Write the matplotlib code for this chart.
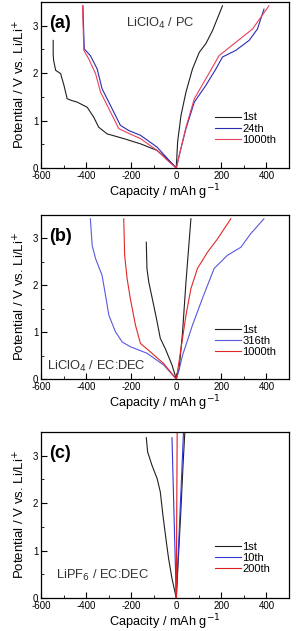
import matplotlib

matplotlib.use("Agg")
import matplotlib.pyplot as plt
from matplotlib.ticker import MultipleLocator

plt.rcParams["font.family"] = ["Liberation Sans", "DejaVu Sans"]
plt.rcParams["axes.unicode_minus"] = False

# ---- panel (a): LiClO4 / PC ----
A_1ST_CAP = [-546, -546, -544, -535, -513, -498, -484, -462, -440, -395, -366, -344, -307, -233, -159, -85, -27, 0,
             6, 21, 43, 72, 102, 131, 161, 205]
A_1ST_V = [2.69, 2.4, 2.27, 2.06, 1.99, 1.74, 1.46, 1.42, 1.39, 1.28, 1.07, 0.86, 0.72, 0.62, 0.51, 0.37, 0.13, 0.0,
           0.55, 1.11, 1.60, 2.09, 2.44, 2.62, 2.90, 3.42]
A_24_CAP = [-414, -410, -408, -381, -351, -329, -292, -248, -211, -159, -85, -30, 0,
            20, 43, 80, 131, 176, 205, 264, 323, 360, 389]
A_24_V = [3.42, 2.79, 2.51, 2.37, 2.09, 1.67, 1.32, 0.90, 0.79, 0.69, 0.44, 0.15, 0.0,
          0.4, 0.83, 1.39, 1.74, 2.09, 2.34, 2.48, 2.69, 2.93, 3.35]
A_1000_CAP = [-416, -412, -410, -388, -358, -336, -299, -255, -211, -159, -85, -30, 0,
              20, 43, 80, 131, 190, 264, 338, 411]
A_1000_V = [3.42, 2.79, 2.48, 2.30, 1.99, 1.60, 1.25, 0.83, 0.73, 0.62, 0.37, 0.12, 0.0,
            0.4, 0.86, 1.46, 1.88, 2.37, 2.65, 2.93, 3.42]

# ---- panel (b): LiClO4 / EC:DEC ----
B_1ST_CAP = [-133, -130, -122, -100, -85, -71, -49, -19, 0, 13, 28, 43, 65]
B_1ST_V = [2.92, 2.35, 2.07, 1.57, 1.22, 0.87, 0.65, 0.30, 0.0, 0.23, 1.01, 2.07, 3.42]
B_316_CAP = [-381, -373, -358, -329, -314, -299, -270, -240, -204, -130, -56, 0,
             10, 28, 72, 116, 168, 227, 286, 330, 389]
B_316_V = [3.42, 2.85, 2.57, 2.21, 1.79, 1.36, 1.01, 0.79, 0.69, 0.55, 0.30, 0.0,
           0.15, 0.51, 1.15, 1.72, 2.36, 2.64, 2.81, 3.10, 3.42]
B_1000_CAP = [-233, -229, -218, -204, -181, -159, -115, -56, 0,
              10, 21, 43, 65, 94, 139, 183, 242]
B_1000_V = [3.42, 2.64, 2.14, 1.72, 1.15, 0.76, 0.58, 0.33, 0.0,
            0.3, 0.65, 1.36, 1.93, 2.36, 2.71, 2.99, 3.42]

# ---- panel (c): LiPF6 / EC:DEC ----
C_1ST_CAP = [-133, -127, -108, -85, -71, -59, -44, -34, -19, 0, 10, 20, 30, 38]
C_1ST_V = [3.38, 3.08, 2.80, 2.52, 2.24, 1.74, 1.18, 0.83, 0.41, 0.0, 0.9, 1.8, 2.8, 3.5]
C_10_CAP = [-19, -10, 0, 12, 24, 32]
C_10_V = [3.38, 1.75, 0.0, 1.3, 2.6, 3.5]
C_200_CAP = [-1, 0, 2, 4]
C_200_V = [0.6, 0.0, 1.75, 3.5]

PANELS = [
    dict(
        tag="(a)",
        note="LiClO$_4$ / PC",
        note_xy=(-221, 3.04),
        legend_y=0.335,
        series=[
            ("1st", A_1ST_CAP, A_1ST_V, "#202020"),
            ("24th", A_24_CAP, A_24_V, "#2a2ab0"),
            ("1000th", A_1000_CAP, A_1000_V, "#e8405e"),
        ],
    ),
    dict(
        tag="(b)",
        note="LiClO$_4$ / EC:DEC",
        note_xy=(-572, 0.26),
        legend_y=0.33,
        series=[
            ("1st", B_1ST_CAP, B_1ST_V, "#202020"),
            ("316th", B_316_CAP, B_316_V, "#5858e0"),
            ("1000th", B_1000_CAP, B_1000_V, "#e02828"),
        ],
    ),
    dict(
        tag="(c)",
        note="LiPF$_6$ / EC:DEC",
        note_xy=(-533, 0.48),
        legend_y=0.34,
        series=[
            ("1st", C_1ST_CAP, C_1ST_V, "#202020"),
            ("10th", C_10_CAP, C_10_V, "#3535d8"),
            ("200th", C_200_CAP, C_200_V, "#e02020"),
        ],
    ),
]

# axes boxes in pixels: (top, bottom)
BOXES = [(2, 168), (215, 379), (432, 598)]
W, H = 298, 631

fig = plt.figure(figsize=(W / 100, H / 100), dpi=100)

for panel, (top, bot) in zip(PANELS, BOXES):
    ax = fig.add_axes([41 / W, (H - bot) / H, 248 / W, (bot - top) / H])
    for label, cap, v, color in panel["series"]:
        ax.plot(cap, v, color=color, lw=0.8, label=label)
    ax.set_xlim(-600, 500)
    ax.set_ylim(0, 3.5)
    ax.xaxis.set_major_locator(MultipleLocator(200))
    ax.xaxis.set_minor_locator(MultipleLocator(100))
    ax.yaxis.set_major_locator(MultipleLocator(1))
    ax.yaxis.set_minor_locator(MultipleLocator(0.5))
    ax.tick_params(which="both", direction="in", labelsize=7, pad=2)
    ax.tick_params(which="major", length=4)
    ax.tick_params(which="minor", length=2)
    for sp in ax.spines.values():
        sp.set_linewidth(0.9)
    ax.set_xlabel("Capacity / mAh g$^{-1}$", fontsize=9.2, labelpad=1.5)
    ax.set_ylabel("Potential / V vs. Li/Li$^{+}$", fontsize=9.5, labelpad=4)
    ax.text(-565, 3.04, panel["tag"], fontsize=13, fontweight="bold", ha="left", va="center")
    ax.text(panel["note_xy"][0], panel["note_xy"][1], panel["note"], fontsize=9.3,
            ha="left", va="center", color="#333333")
    ax.legend(loc="upper left", bbox_to_anchor=(0.70, panel["legend_y"]), frameon=False, fontsize=8,
              handlelength=2.4, handletextpad=0.1, labelspacing=0.1, borderpad=0,
              borderaxespad=0)

fig.savefig("out.png", dpi=100)
